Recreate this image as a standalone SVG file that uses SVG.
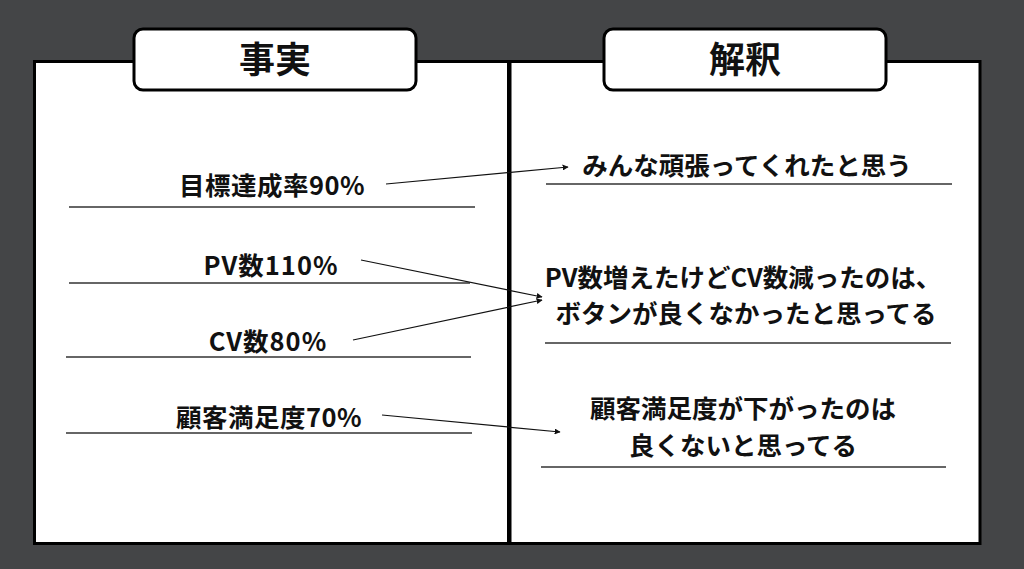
<svg xmlns="http://www.w3.org/2000/svg" width="1024" height="569" viewBox="0 0 1024 569">
<style>
.t{font-family:"Noto Sans CJK JP","Noto Sans",sans-serif;font-weight:bold;fill:#111;text-anchor:middle}
.h{font-size:36px}
.b{font-size:25.5px}
.u{stroke:#333;stroke-width:1.3}
.a{stroke:#111;stroke-width:1.2;fill:none;marker-end:url(#ah)}
</style>
<defs>
<marker id="ah" viewBox="0 0 10 10" refX="9" refY="5" markerWidth="6" markerHeight="6" markerUnits="userSpaceOnUse" orient="auto">
<path d="M0,0 L10,5 L0,10 z" fill="#111"/>
</marker>
</defs>
<rect width="1024" height="569" fill="#444547"/>
<g id="panel-left">
<rect x="34.5" y="61.5" width="474" height="482" fill="#fff" stroke="#000" stroke-width="3"/>
</g>
<g id="panel-right">
<rect x="510" y="61.5" width="470" height="482" fill="#fff" stroke="#000" stroke-width="3"/>
<line x1="509" y1="60" x2="509" y2="545" stroke="#000" stroke-width="4"/>
</g>
<g id="title-fact">
<rect x="134" y="29" width="282" height="61" rx="9" fill="#fff" stroke="#000" stroke-width="3"/>
<text class="t h" x="275" y="73">事実</text>
</g>
<g id="title-interp">
<rect x="604" y="29" width="282" height="61" rx="9" fill="#fff" stroke="#000" stroke-width="3"/>
<text class="t h" x="745" y="73">解釈</text>
</g>
<g id="fact1">
<text class="t b" x="272" y="195" letter-spacing="0.5">目標達成率90%</text>
<line class="u" x1="69" y1="207" x2="475" y2="207"/>
</g>
<g id="fact2">
<text class="t b" x="271" y="275" letter-spacing="1">PV数110%</text>
<line class="u" x1="69" y1="283" x2="470" y2="283"/>
</g>
<g id="fact3">
<text class="t b" x="268" y="351" letter-spacing="1">CV数80%</text>
<line class="u" x1="66" y1="357" x2="471" y2="357"/>
</g>
<g id="fact4">
<text class="t b" x="269" y="427" letter-spacing="0.5">顧客満足度70%</text>
<line class="u" x1="66" y1="433" x2="472" y2="433"/>
</g>
<g id="interp1">
<text class="t b" x="747" y="175">みんな頑張ってくれたと思う</text>
<line class="u" x1="546" y1="184" x2="952" y2="184"/>
</g>
<g id="interp2">
<text class="t b" x="743" y="287">PV数増えたけどCV数減ったのは、</text>
<text class="t b" x="746" y="323">ボタンが良くなかったと思ってる</text>
<line class="u" x1="545" y1="343" x2="951" y2="343"/>
</g>
<g id="interp3">
<text class="t b" x="743" y="418">顧客満足度が下がったのは</text>
<text class="t b" x="743" y="455">良くないと思ってる</text>
<line class="u" x1="541" y1="467" x2="946" y2="467"/>
</g>
<g id="connectors">
<line class="a" x1="386" y1="184" x2="568" y2="167"/>
<line class="a" x1="361" y1="260" x2="542" y2="297"/>
<line class="a" x1="353" y1="340" x2="542" y2="300"/>
<line class="a" x1="382" y1="415" x2="560" y2="432"/>
</g>
</svg>
